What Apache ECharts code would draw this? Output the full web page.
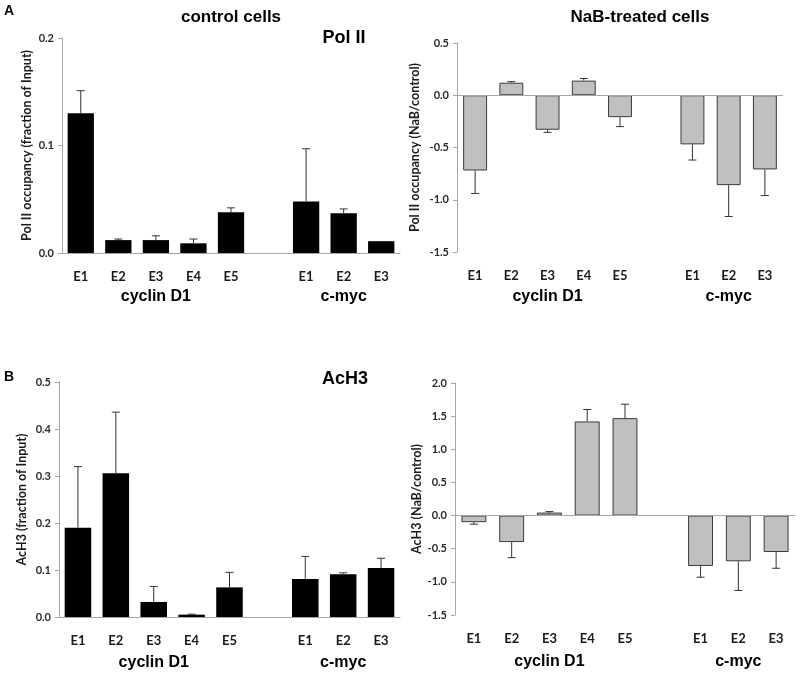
<!DOCTYPE html>
<html>
<head>
<meta charset="utf-8">
<script src="https://cdn.jsdelivr.net/npm/echarts@6/dist/echarts.min.js"></script>
<style>html,body{margin:0;padding:0;background:#fff}#c{width:800px;height:677px}</style>
</head>
<body>
<div id="c"></div>
<script>
var categories = ['E1','E2','E3','E4','E5','','E1','E2','E3'];
var groupLabels = ['cyclin D1','c-myc'];
var groupCenters = [2, 7];

var polControl    = [0.130, 0.012, 0.012, 0.009, 0.038, '-', 0.048, 0.037, 0.011];
var polControlErr = [0.021, 0.001, 0.004, 0.004, 0.004, 0, 0.049, 0.004, 0];
var polNaB        = [-0.72, 0.12, -0.33, 0.14, -0.21, '-', -0.47, -0.86, -0.71];
var polNaBErr     = [0.22, 0.01, 0.025, 0.02, 0.09, 0, 0.15, 0.30, 0.25];
var acControl     = [0.190, 0.306, 0.032, 0.005, 0.063, '-', 0.081, 0.091, 0.104];
var acControlErr  = [0.130, 0.130, 0.033, 0.001, 0.032, 0, 0.048, 0.003, 0.021];
var acNaB         = [-0.10, -0.40, 0.045, 1.42, 1.47, '-', -0.76, -0.69, -0.55];
var acNaBErr      = [0.03, 0.235, 0.015, 0.18, 0.21, 0, 0.17, 0.44, 0.245];

var panels = [
  {vals: polControl, errs: polControlErr, min: 0, max: 0.2, interval: 0.1, name: 'Pol II occupancy (fraction of Input)', gray: false,
   grid: {left: 62, top: 38, width: 338, height: 215}, nameGap: 29},
  {vals: polNaB, errs: polNaBErr, min: -1.5, max: 0.5, interval: 0.5, name: 'Pol II occupancy (NaB/control)', gray: true,
   grid: {left: 457, top: 43, width: 326, height: 209}, nameGap: 36},
  {vals: acControl, errs: acControlErr, min: 0, max: 0.5, interval: 0.1, name: 'AcH3 (fraction of Input)', gray: false,
   grid: {left: 59, top: 382, width: 341, height: 235}, nameGap: 31},
  {vals: acNaB, errs: acNaBErr, min: -1.5, max: 2.0, interval: 0.5, name: 'AcH3 (NaB/control)', gray: true,
   grid: {left: 455, top: 383, width: 340, height: 232}, nameGap: 31}
];

var tickFont = {fontFamily: 'Lato, "Open Sans", sans-serif', fontWeight: 'bold', fontSize: 11, color: '#2a2a2a'};
var grids = [], xAxes = [], yAxes = [], series = [];
panels.forEach(function (p, i) {
  grids.push(p.grid);
  xAxes.push({
    type: 'category', gridIndex: i, data: categories,
    axisLine: {show: !p.gray, lineStyle: {color: '#a6a6a6', width: 1}},
    axisTick: {show: false},
    axisLabel: {margin: 17, fontFamily: 'Lato, "Open Sans", sans-serif', fontWeight: 'bold', fontSize: 13, color: '#1a1a1a', interval: 0}
  });
  yAxes.push({
    type: 'value', gridIndex: i, min: p.min, max: p.max, interval: p.interval,
    axisLine: {show: true, lineStyle: {color: '#a6a6a6', width: 1}},
    axisTick: {show: true, length: 4, lineStyle: {color: '#a6a6a6'}},
    splitLine: {show: false},
    axisLabel: Object.assign({margin: 8, formatter: function (v) { return v.toFixed(1); }}, tickFont),
    name: p.name, nameLocation: 'middle', nameGap: p.nameGap, nameRotate: 90,
    nameTextStyle: {fontFamily: 'Lato, "Open Sans", sans-serif', fontWeight: 'bold', fontSize: 12.5, color: '#1a1a1a'}
  });
  var bar = {
    type: 'bar', xAxisIndex: i, yAxisIndex: i, data: p.vals,
    barWidth: p.gray ? '66%' : '70%',
    itemStyle: p.gray ? {color: '#c0c0c0', borderColor: '#3a3a3a', borderWidth: 1} : {color: '#000'},
    silent: true, animation: false
  };
  if (p.gray) {
    bar.markLine = {silent: true, symbol: 'none', label: {show: false},
      lineStyle: {color: '#a6a6a6', type: 'solid', width: 1}, data: [{yAxis: 0}]};
  }
  series.push(bar);
  var errData = [];
  p.vals.forEach(function (v, k) {
    if (v !== '-' && p.errs[k] > 0) errData.push([k, v, p.errs[k]]);
  });
  series.push({
    type: 'custom', xAxisIndex: i, yAxisIndex: i, data: errData, silent: true, animation: false, z: 3,
    encode: {x: 0, y: 1},
    renderItem: function (params, api) {
      var k = api.value(0), v = api.value(1), e = api.value(2);
      var tip = v >= 0 ? v + e : v - e;
      var a = api.coord([k, v]), b = api.coord([k, tip]);
      var st = {stroke: '#333', lineWidth: 1};
      return {type: 'group', children: [
        {type: 'line', shape: {x1: a[0], y1: a[1], x2: b[0], y2: b[1]}, style: st},
        {type: 'line', shape: {x1: b[0] - 4, y1: b[1], x2: b[0] + 4, y2: b[1]}, style: st}
      ]};
    }
  });
});

var chart = echarts.init(document.getElementById('c'), null, {renderer: 'canvas'});
chart.setOption({
  animation: false,
  grid: grids, xAxis: xAxes, yAxis: yAxes, series: series
});

var titleFont = 'Liberation Sans, Arial, sans-serif';
var gfx = [
  {type: 'text', left: 4, top: 4, style: {text: 'A', font: 'bold 14px ' + titleFont, fill: '#000'}},
  {type: 'text', left: 4, top: 370, style: {text: 'B', font: 'bold 14px ' + titleFont, fill: '#000'}},
  {type: 'text', x: 231, y: 17, style: {text: 'control cells', font: 'bold 17px ' + titleFont, fill: '#000', align: 'center', verticalAlign: 'middle'}},
  {type: 'text', x: 640, y: 17, style: {text: 'NaB-treated cells', font: 'bold 17px ' + titleFont, fill: '#000', align: 'center', verticalAlign: 'middle'}},
  {type: 'text', x: 344, y: 38, style: {text: 'Pol II', font: 'bold 18px ' + titleFont, fill: '#000', align: 'center', verticalAlign: 'middle'}},
  {type: 'text', x: 345, y: 379, style: {text: 'AcH3', font: 'bold 18px ' + titleFont, fill: '#000', align: 'center', verticalAlign: 'middle'}}
];
var groupY = [297, 297, 663, 662];
panels.forEach(function (p, i) {
  groupCenters.forEach(function (c, g) {
    var px = chart.convertToPixel({xAxisIndex: i}, c);
    gfx.push({type: 'text', x: px, y: groupY[i], style: {text: groupLabels[g], font: 'bold 16px ' + titleFont, fill: '#000', align: 'center', verticalAlign: 'middle'}});
  });
});
chart.setOption({graphic: gfx});
</script>
</body>
</html>
